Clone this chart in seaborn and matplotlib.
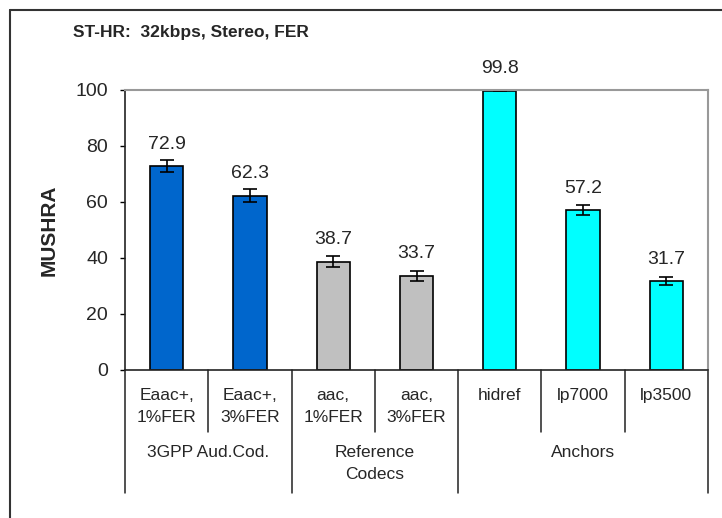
import matplotlib
matplotlib.use("Agg")
import matplotlib.pyplot as plt
import seaborn as sns
from matplotlib.lines import Line2D

# data
categories = ["Eaac+,\n1%FER", "Eaac+,\n3%FER", "aac,\n1%FER", "aac,\n3%FER",
              "hidref", "lp7000", "lp3500"]
scores = [72.9, 62.3, 38.7, 33.7, 99.8, 57.2, 31.7]
ci = [2.1, 2.3, 1.9, 1.8, 0.3, 1.8, 1.4]
groups = ["3GPP Aud.Cod.", "Reference\nCodecs", "Anchors"]
group_sizes = [2, 2, 3]
group_colors = ["#0066CC", "#C0C0C0", "#00FFFF"]
yticks = [0, 20, 40, 60, 80, 100]

bar_colors = []
for c, n in zip(group_colors, group_sizes):
    bar_colors += [c] * n

sns.set_style("white")
plt.rcParams["font.family"] = ["Liberation Sans", "DejaVu Sans"]

fig = plt.figure(figsize=(7.22, 5.18), dpi=100)
ax = fig.add_axes([125 / 722, 1 - 370 / 518, 583 / 722, 280 / 518])

sns.barplot(x=categories, y=scores, hue=categories, palette=bar_colors,
            width=0.4, edgecolor="black", linewidth=1.2, legend=False,
            saturation=1, ax=ax)
ax.errorbar(range(len(scores)), scores, yerr=ci, fmt="none", ecolor="black",
            elinewidth=1.2, capsize=5, capthick=1.2)

for i, v in enumerate(scores):
    ax.annotate(f"{v:.1f}", (i, v), xytext=(0, 9.5), textcoords="offset points",
                ha="center", va="bottom", fontsize=14)

ax.set_xlim(-0.5, len(categories) - 0.5)
ax.set_ylim(0, 100)
ax.set_yticks(yticks)
ax.tick_params(axis="y", direction="out", length=3.6, width=1, color="black",
               labelsize=14, pad=8.5, left=True)
ax.set_xticks(range(len(categories)))
ax.set_xticklabels(categories, fontsize=12.5, linespacing=1.6)
ax.tick_params(axis="x", length=0, pad=13)
for lab in ax.get_xticklabels():
    lab.set_verticalalignment("top")

ax.set_ylabel("MUSHRA", fontsize=15, fontweight="bold")
ax.yaxis.set_label_coords(-0.113, 0.5)
ax.set_xlabel("")

for side in ["top", "right"]:
    ax.spines[side].set_color("#999999")
    ax.spines[side].set_linewidth(1.5)
for side in ["left", "bottom"]:
    ax.spines[side].set_color("#222222")
    ax.spines[side].set_linewidth(1.2)

# divider lines below the axis
trans = ax.get_xaxis_transform()
bounds = [-0.5]
for n in group_sizes:
    bounds.append(bounds[-1] + n)
for k in range(len(categories) + 1):
    x = k - 0.5
    y_end = -0.439 if x in bounds else -0.221
    ax.plot([x, x], [0, y_end], color="#222222", lw=1.1, transform=trans,
            clip_on=False)

# group labels
for g, a, b in zip(groups, bounds[:-1], bounds[1:]):
    ax.text((a + b) / 2, -0.268, g, transform=trans, ha="center", va="top",
            fontsize=12.5, linespacing=1.6)

fig.text(73 / 722, 1 - 32 / 518, "ST-HR:  32kbps, Stereo, FER", fontsize=12.5,
         fontweight="bold", va="center", ha="left")

# outer frame (left and top edges)
fig.add_artist(Line2D([9.5 / 722, 9.5 / 722], [0, 1 - 9.5 / 518],
                      transform=fig.transFigure, color="#333333", lw=1.5))
fig.add_artist(Line2D([9.5 / 722, 1], [1 - 9.5 / 518, 1 - 9.5 / 518],
                      transform=fig.transFigure, color="#333333", lw=1.5))

fig.savefig("out.png", dpi=100)
